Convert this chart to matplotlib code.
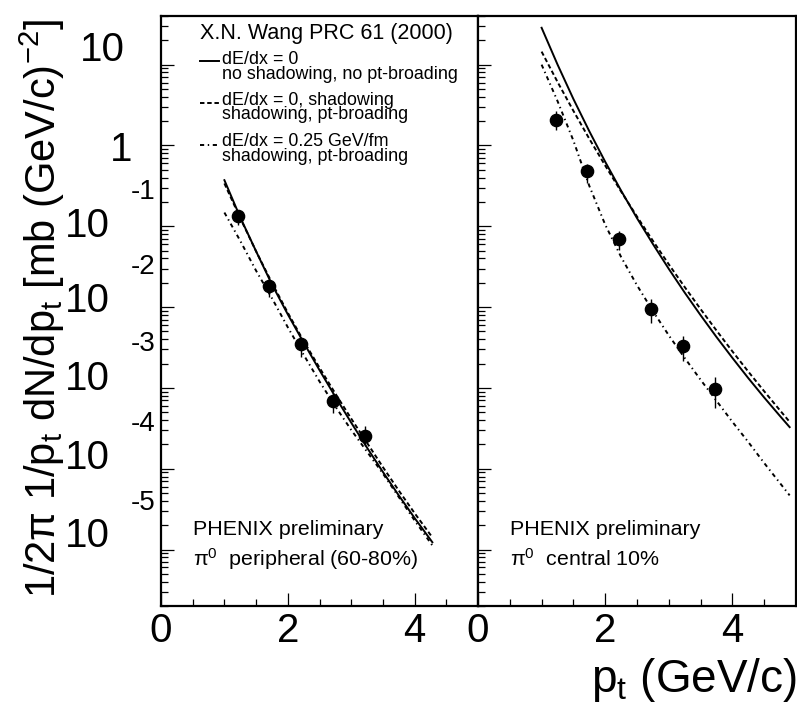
import numpy as np
import matplotlib
matplotlib.use('Agg')
import matplotlib.pyplot as plt
from matplotlib.ticker import LogLocator, MultipleLocator, NullFormatter, FixedLocator

plt.rcParams['font.family'] = ['Liberation Sans', 'DejaVu Sans']
plt.rcParams['mathtext.fontset'] = 'custom'
plt.rcParams['mathtext.rm'] = 'Liberation Sans'
plt.rcParams['mathtext.it'] = 'Liberation Sans:italic'
plt.rcParams['mathtext.default'] = 'regular'
plt.rcParams['lines.scale_dashes'] = False

# ---------------- data ----------------
# peripheral (60-80%) data points
pt_periph = [1.21, 1.71, 2.21, 2.71, 3.21]
y_periph = [0.134, 0.0182, 0.00352, 6.97e-4, 2.55e-4]
err_lo_periph = [0.030, 0.0047, 1.08e-3, 2.1e-4, 6.6e-5]
err_hi_periph = [0.0164, 0.0034, 3.8e-4, 1.7e-4, 8.3e-5]

# central 10% data points
pt_central = [1.22, 1.72, 2.22, 2.72, 3.22, 3.72]
y_central = [2.08, 0.478, 0.069, 0.00937, 0.0033, 9.7e-4]
err_lo_central = [0.545, 0.135, 0.0186, 0.00308, 0.00113, 4.09e-4]
err_hi_central = [0.574, 0.117, 0.0179, 0.00306, 0.00108, 4.06e-4]

# theory curves (X.N. Wang), peripheral
pt_theo_periph = [1.0, 1.25, 1.5, 1.75, 2.0, 2.25, 2.5, 2.75, 3.0, 3.25, 3.5, 3.75, 4.0, 4.28]
solid_periph = [0.372, 0.129, 4.898e-2, 1.905e-2, 8.128e-3, 3.631e-3, 1.660e-3,
                7.762e-4, 3.715e-4, 1.820e-4, 9.120e-5, 4.677e-5, 2.455e-5, 1.230e-5]
dashed_periph = [0.3388, 0.1259, 4.898e-2, 1.995e-2, 8.511e-3, 3.802e-3, 1.778e-3,
                 8.511e-4, 4.169e-4, 2.089e-4, 1.047e-4, 5.370e-5, 2.818e-5, 1.413e-5]
dashdot_periph = [0.1479, 6.607e-2, 2.818e-2, 1.288e-2, 5.623e-3, 2.570e-3, 1.202e-3,
                  5.888e-4, 3.020e-4, 1.622e-4, 8.710e-5, 4.467e-5, 2.291e-5, 1.122e-5]

# theory curves, central
pt_theo_central = [1.0, 1.25, 1.5, 1.75, 2.0, 2.25, 2.5, 2.75, 3.0, 3.25, 3.5, 3.75,
                   4.0, 4.25, 4.5, 4.75, 4.9]
solid_central = [28.6, 10.05, 3.76, 1.50, 0.628, 0.276, 0.126, 0.0603, 0.0297, 0.0151,
                 7.93e-3, 4.26e-3, 2.35e-3, 1.32e-3, 7.6e-4, 4.47e-4, 3.27e-4]
dashed_central = [14.5, 6.12, 2.68, 1.21, 0.564, 0.269, 0.132, 0.0661, 0.0338, 0.0177,
                  9.44e-3, 5.13e-3, 2.83e-3, 1.59e-3, 9.08e-4, 5.25e-4, 3.80e-4]
dashdot_central = [10.0, 3.548, 1.148, 0.3162, 0.1047, 4.169e-2, 1.862e-2, 8.913e-3,
                   4.467e-3, 2.344e-3, 1.259e-3, 6.918e-4, 3.802e-4, 2.138e-4, 1.175e-4,
                   6.607e-5, 4.677e-5]

x_ticks = [0, 2, 4]
x_ticklabels = ['0', '2', '4']
# ROOT-style y labels: (mantissa text, exponent text)
y_label_texts = [('10', ''), ('1', ''), ('10', '-1'), ('10', '-2'), ('10', '-3'),
                 ('10', '-4'), ('10', '-5')]

legend_title = 'X.N. Wang PRC 61 (2000)'
legend_entries = [('dE/dx = 0', 'no shadowing, no pt-broading'),
                  ('dE/dx = 0, shadowing', 'shadowing, pt-broading'),
                  ('dE/dx = 0.25 GeV/fm', 'shadowing, pt-broading')]

# ---------------- figure ----------------
W, H = 797, 708
fig = plt.figure(figsize=(W / 100, H / 100), dpi=100)


def fx(x):
    return x / W


def fy(y):
    return 1 - y / H


ax1 = fig.add_axes([fx(161), fy(606), 317 / W, 590 / H])
ax2 = fig.add_axes([fx(478), fy(606), 318 / W, 590 / H])

LW = 1.4
DASH = (0, (3.2, 2.0))
DASHDOT = (0, (3.0, 2.6, 1.0, 2.6))

for ax in (ax1, ax2):
    ax.set_yscale('log')
    ax.set_xlim(0, 5)
    ax.set_ylim(2e-6, 40)
    for s in ax.spines.values():
        s.set_linewidth(1.6)
    ax.xaxis.set_major_locator(FixedLocator(x_ticks))
    ax.xaxis.set_minor_locator(MultipleLocator(0.5))
    ax.yaxis.set_major_locator(LogLocator(base=10, numticks=20))
    ax.yaxis.set_minor_locator(LogLocator(base=10, subs=np.arange(2, 10), numticks=20))
    ax.yaxis.set_major_formatter(NullFormatter())
    ax.yaxis.set_minor_formatter(NullFormatter())
    ax.tick_params(which='major', direction='in', length=9.5, width=0.9,
                   top=False, right=False)
    ax.tick_params(which='minor', direction='in', length=5, width=0.9,
                   top=False, right=False)
    ax.tick_params(axis='x', which='major', labelsize=29, pad=4)
    ax.set_xticklabels(x_ticklabels)

# curves
ax1.plot(pt_theo_periph, solid_periph, color='black', lw=LW, ls='-')
ax1.plot(pt_theo_periph, dashed_periph, color='black', lw=LW, ls=DASH)
ax1.plot(pt_theo_periph, dashdot_periph, color='black', lw=LW, ls=DASHDOT)
ax2.plot(pt_theo_central, solid_central, color='black', lw=LW, ls='-')
ax2.plot(pt_theo_central, dashed_central, color='black', lw=LW, ls=DASH)
ax2.plot(pt_theo_central, dashdot_central, color='black', lw=LW, ls=DASHDOT)

# data
ax1.errorbar(pt_periph, y_periph, yerr=[err_lo_periph, err_hi_periph], fmt='o',
             color='black', ms=8.8, elinewidth=1.0, capsize=0)
ax2.errorbar(pt_central, y_central, yerr=[err_lo_central, err_hi_central], fmt='o',
             color='black', ms=8.8, elinewidth=1.0, capsize=0)

# y tick labels, placed as in the ROOT original (pixel positions)
mant_y = [50, 150, 226, 301, 379, 458, 536]
mant_x = [125, 132, 110, 110, 110, 110, 110]
expo_y = [None, None, 192, 267, 344, 424, 503]
for (m, ex), my, mx, ey in zip(y_label_texts, mant_y, mant_x, expo_y):
    fig.text(fx(mx), fy(my), m, ha='right', va='center', fontsize=29)
    if ex:
        fig.text(fx(131), fy(ey), ex, ha='left', va='center', fontsize=20)

# axis titles
fig.text(fx(42), fy(308), r'1/2$\pi$ 1/p$_t$ dN/dp$_t$ [mb (GeV/c)$^{-2}$]',
         rotation=90, ha='center', va='center', fontsize=30)
fig.text(fx(797), fy(692), r'p$_t$ (GeV/c)', ha='right', va='baseline', fontsize=33)

# legend
fig.text(fx(200), fy(39.5), legend_title, ha='left', va='baseline', fontsize=15.5)
styles = ['-', DASH, DASHDOT]
line_y = [61, 103, 145]
base1 = [63.5, 105, 146.5]
base2 = [79, 119, 161]
for (t1, t2), ls, ly, b1, b2 in zip(legend_entries, styles, line_y, base1, base2):
    fig.add_artist(plt.Line2D([fx(200), fx(219)], [fy(ly), fy(ly)], color='black',
                              lw=LW, ls=ls, transform=fig.transFigure))
    fig.text(fx(222), fy(b1), t1, ha='left', va='baseline', fontsize=12.9)
    fig.text(fx(222), fy(b2), t2, ha='left', va='baseline', fontsize=12.9)

# panel labels
fig.text(fx(193), fy(535), 'PHENIX preliminary', ha='left', va='baseline', fontsize=15.4)
fig.text(fx(193), fy(566), r'$\pi^{0}$  peripheral (60-80%)', ha='left', va='baseline',
         fontsize=15.4)
fig.text(fx(510), fy(535), 'PHENIX preliminary', ha='left', va='baseline', fontsize=15.4)
fig.text(fx(510), fy(566), r'$\pi^{0}$  central 10%', ha='left', va='baseline',
         fontsize=15.4)

fig.savefig('out.png', dpi=100)
